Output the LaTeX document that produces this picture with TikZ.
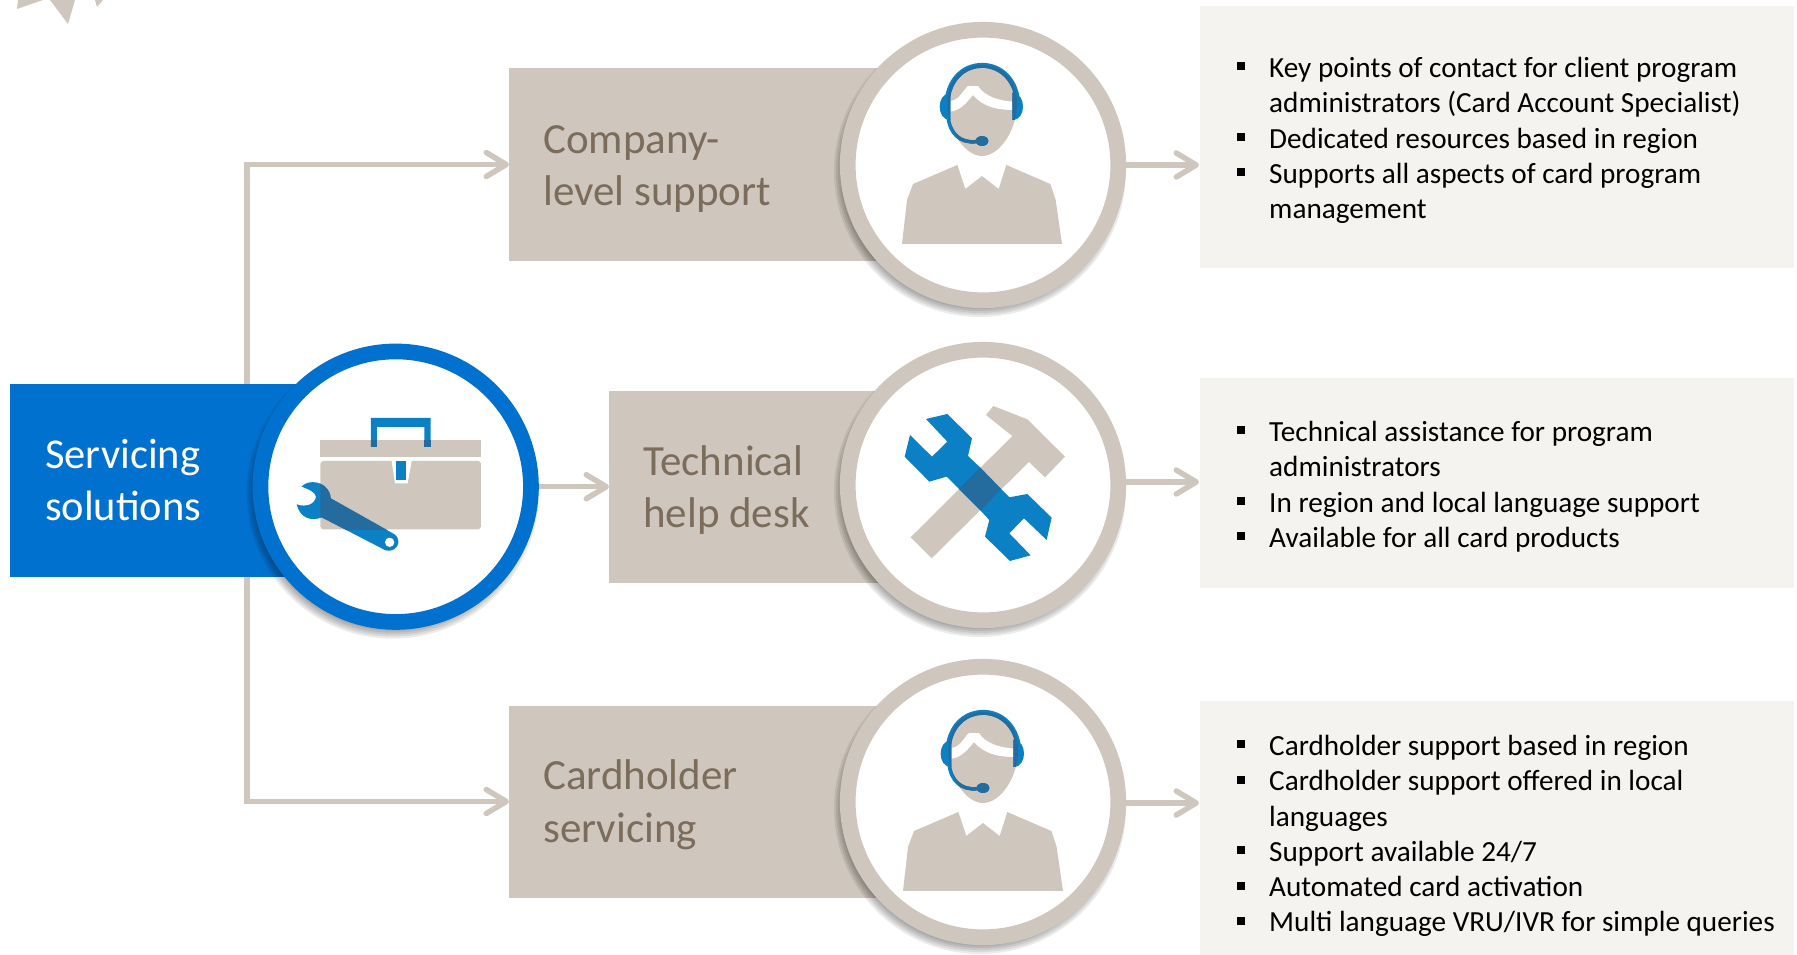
\documentclass[tikz,border=0pt]{standalone}
\usepackage{fontspec}
\setmainfont{Carlito}
\usetikzlibrary{arrows.meta}
\definecolor{sandtone}{HTML}{CFC7BD}
\definecolor{paneltone}{HTML}{F4F3F0}
\definecolor{ringblue}{HTML}{0071CE}
\definecolor{iconblue}{HTML}{0C80C4}
\definecolor{icondark}{HTML}{256C9E}
\definecolor{cardtext}{HTML}{7B6C5C}
\newcommand{\bulletmark}{\makebox[32pt][l]{\raisebox{7pt}{\rule{8pt}{8pt}}}}
\newcommand{\hangline}{\hspace*{32pt}}
\newcommand{\headset}[1]{
\fill[#1] (392,280) .. controls (370,280) and (360,300) .. (360,320) .. controls (360,340) and (370,360) .. (392,360) -- cycle;
\fill[#1] (578,278) .. controls (600,278) and (610,300) .. (610,320) .. controls (610,340) and (600,360) .. (578,360) -- cycle;
\draw[#1, line width=5pt] (384,290) .. controls (395,228) and (440,196) .. (487,196) .. controls (535,196) and (580,228) .. (592,290);
\draw[#1, line width=3.5pt] (385,350) .. controls (390,400) and (420,430) .. (470,425);
\fill[#1] (487,423) ellipse (19 and 15);
}
\newcommand{\spanner}{(185,470) .. controls (200,452) and (235,452) .. (255,470) .. controls (268,482) and (272,495) .. (272,505) -- (462,612) .. controls (482,625) and (478,650) .. (462,658) .. controls (450,665) and (435,663) .. (425,655) -- (245,562) .. controls (215,575) and (180,565) .. (170,523) .. controls (195,532) and (225,525) .. (228,500) .. controls (225,485) and (205,478) .. (185,470) -- cycle}
\tikzset{
  person/.pic={
    \begin{scope}[x=.3333pt, y=-.3333pt, shift={(-490,-495)}]
    \fill[sandtone] (247,732) -- (262,600) -- (280,552) -- (413,495) -- (437,567) -- (487,528) -- (537,567) -- (560,495) -- (692,552) -- (708,600) -- (727,732) -- cycle;
    \fill[sandtone] (383,310) .. controls (383,235) and (430,195) .. (487,195) .. controls (545,195) and (592,235) .. (592,310) .. controls (592,390) and (540,468) .. (487,468) .. controls (435,468) and (383,390) .. (383,310) -- cycle;
    \fill[white] (392,303) .. controls (420,300) and (430,270) .. (445,258) -- (475,258) .. controls (495,290) and (540,303) .. (585,305) -- (585,330) .. controls (530,330) and (490,320) .. (460,285) .. controls (440,310) and (420,332) .. (392,335) -- cycle;
    \headset{iconblue}
    \begin{scope}
    \clip (383,310) .. controls (383,235) and (430,195) .. (487,195) .. controls (545,195) and (592,235) .. (592,310) .. controls (592,390) and (540,468) .. (487,468) .. controls (435,468) and (383,390) .. (383,310) -- cycle;
    \headset{icondark}
    \end{scope}
    \end{scope}
  },
  solution/.style={fill=ringblue, text=white, anchor=west, minimum width=330pt, minimum height=193pt, text width=265pt, inner xsep=35pt, align=left, font=\fontsize{42.5pt}{52pt}\selectfont},
  card/.style={fill=sandtone, anchor=west, minimum height=192pt, inner sep=0pt},
  cardlabel/.style={text=cardtext, anchor=west, inner sep=0pt, align=left, font=\fontsize{43pt}{52.5pt}\selectfont},
  ring/.style={circle, fill=white, draw=#1, line width=15.7pt, minimum size=270.5pt, inner sep=0pt},
  panel/.style={fill=paneltone, anchor=north west, minimum width=594pt, inner sep=0pt},
  listtext/.style={anchor=north west, inner sep=0pt, align=left, text=black, font=\fontsize{29.2pt}{35.3pt}\selectfont},
  link/.style={draw=sandtone, line width=5.5pt, -{Straight Barb[length=20pt, width=24pt, round]}},
  softshade/.style={fill=black, opacity=.08}
}
\begin{document}
\begin{tikzpicture}[x=1pt, y=-1pt]
\useasboundingbox (0,0) rectangle (1797,955);
% broken star at the top edge
\fill[sandtone] (17,9) -- (18,0) -- (43,0) -- cycle;
\fill[sandtone] (50,0) -- (68,24) -- (75,0) -- cycle;
\fill[sandtone] (95,0) -- (97,7) -- (103,0) -- cycle;
\coordinate (centreS) at (395.7,486.7);
\coordinate (centreA) at (983,165);
\coordinate (centreB) at (983,485);
\coordinate (centreC) at (983,802);
\coordinate (tipA) at (1199,165);
\coordinate (tipB) at (1199,482);
\coordinate (tipC) at (1199,803);
\coordinate (trunkT) at (247,384);
\coordinate (trunkB) at (247,577);
% boxes
\node[solution] (solbox) at (10,480.5) {Servicing\\solutions};
\node[card, minimum width=420pt] (company) at (509,164.5) {};
\node[card, minimum width=320pt] (helpdesk) at (609,486.5) {};
\node[card, minimum width=420pt] (holder) at (509,801.5) {};
\node[cardlabel] (companytext) at ([shift={(34pt,-4.5pt)}]company.west) {Company-\\level support};
\node[cardlabel] (helpdesktext) at ([shift={(34pt,-3.5pt)}]helpdesk.west) {Technical\\help desk};
\node[cardlabel] (holdertext) at ([shift={(34pt,-3.5pt)}]holder.west) {Cardholder\\servicing};
\node[panel, minimum height=262pt] (panelA) at (1200,6) {};
\node[panel, minimum height=210pt] (panelB) at (1200,378) {};
\node[panel, minimum height=254pt] (panelC) at (1200,701) {};
% rings with their shadows
\foreach \c in {centreS,centreA,centreB,centreC}
  \foreach \r in {136,138,...,146}
    \fill[softshade] (\c) ++(-3,6) circle (\r pt);
\node[ring=ringblue] (ringS) at (centreS) {};
\node[ring=sandtone] (ringA) at (centreA) {};
\node[ring=sandtone] (ringB) at (centreB) {};
\node[ring=sandtone] (ringC) at (centreC) {};
% connectors
\draw[link] (trunkT) |- (company.west);
\draw[link] (trunkB) |- (holder.west);
\draw[link] (ringS.east) -- (ringS.east -| helpdesk.west);
\draw[link] (tipA -| ringA.east) -- (tipA);
\draw[link] (tipB -| ringB.east) -- (tipB);
\draw[link] (tipC -| ringC.east) -- (tipC);
% icons
\pic at (ringA) {person};
\pic at ([shift={(1pt,-10pt)}]ringC) {person};
\begin{scope}[shift={(820,330)}, x=.3333pt, y=-.3333pt]
\fill[sandtone] (272,622) -- (577,318) -- (498,255) -- (520,228) -- (622,268) -- (735,380) -- (675,442) -- (627,396) -- (335,685) -- cycle;
\fill[iconblue] (318,267) -- (382,252) -- (456,325) -- (444,378) -- (480,412) -- (543,477) -- (568,502) -- (622,492) -- (695,563) -- (680,630) -- (612,565) -- (568,610) -- (632,676) -- (570,693) -- (495,620) -- (508,570) -- (482,542) -- (417,477) -- (380,440) -- (328,455) -- (254,380) -- (270,315) -- (336,380) -- (382,335) -- cycle;
\fill[icondark] (480,412) -- (543,477) -- (482,542) -- (417,477) -- cycle;
\end{scope}
\begin{scope}[shift={(240,330)}, x=.3333pt, y=-.3333pt]
\fill[sandtone] (241,331) rectangle (723,381);
\fill[sandtone, rounded corners=3pt] (241,393) rectangle (723,598);
\fill[white] (455,393) -- (465,460) -- (503,460) -- (515,393) -- cycle;
\fill[iconblue] (468,393) rectangle (499,450);
\fill[iconblue] (393,350) -- (393,264) -- (572,264) -- (572,350) -- (553,350) -- (553,291) -- (411,291) -- (411,350) -- cycle;
\fill[icondark] (393,331) rectangle (411,350);
\fill[icondark] (553,331) rectangle (572,350);
\fill[iconblue] \spanner;
\fill[white] (449,637) circle (14);
\begin{scope}
\clip (241,393) rectangle (723,598);
\fill[icondark] \spanner;
\end{scope}
\end{scope}
% lists
\node[listtext] (listA) at (1237,57) {\bulletmark Key points of contact for client program\\\hangline administrators (Card Account Specialist)\\\bulletmark Dedicated resources based in region\\\bulletmark Supports all aspects of card program\\\hangline management};
\node[listtext] (listB) at (1237,421) {\bulletmark Technical assistance for program\\\hangline administrators\\\bulletmark In region and local language support\\\bulletmark Available for all card products};
\node[listtext] (listC) at (1237,735) {\bulletmark Cardholder support based in region\\\bulletmark Cardholder support offered in local\\\hangline languages\\\bulletmark Support available 24/7\\\bulletmark Automated card activation\\\bulletmark Multi language VRU/IVR for simple queries};
\end{tikzpicture}
\end{document}
